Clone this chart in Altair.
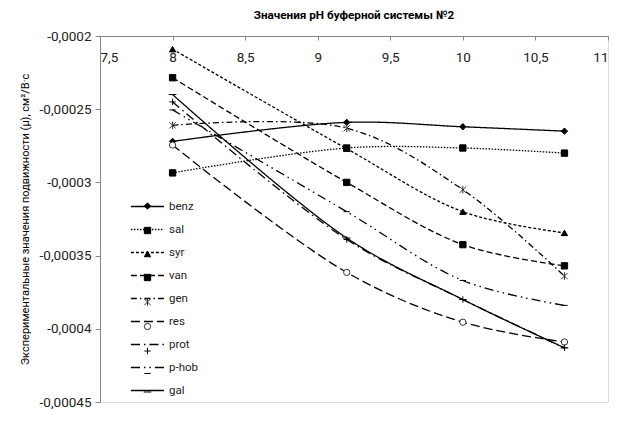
import altair as alt
import pandas as pd

# ---- data ----
ph = [8, 9.2, 10, 10.7]
series_names = ["benz", "sal", "syr", "van", "gen", "res", "prot", "p-hob", "gal"]
benz = [-0.000272, -0.000259, -0.000262, -0.000265]
sal = [-0.0002935, -0.0002765, -0.0002765, -0.00028]
syr = [-0.000209, -0.000277, -0.00032, -0.0003345]
van = [-0.0002285, -0.0003, -0.0003425, -0.000357]
gen = [-0.000261, -0.000263, -0.000305, -0.000364]
res = [-0.0002745, -0.0003615, -0.0003955, -0.000409]
prot = [-0.000245, -0.000339, -0.00038, -0.000413]
phob = [-0.0002505, -0.00032, -0.000367, -0.000384]
gal = [-0.00024, -0.000338, -0.00038, -0.000413]
x_ticks = [7.5, 8, 8.5, 9, 9.5, 10, 10.5, 11]
y_ticks = [-0.00045, -0.0004, -0.00035, -0.0003, -0.00025, -0.0002]

values = [benz, sal, syr, van, gen, res, prot, phob, gal]
marker_keys = [n + " " for n in series_names]  # separate key so the marker legend stays separate
rows = []
for name, key, vals in zip(series_names, marker_keys, values):
    for x, v in zip(ph, vals):
        rows.append({"ph": x, "mu": v, "series": name, "series_m": key})
df = pd.DataFrame(rows)

# ---- styles ----
dashes = [[1, 0], [1.5, 1.5], [3, 2], [6, 3], [6, 3, 1.5, 3], [9, 4],
          [9, 4, 1.5, 4], [9, 4, 1.5, 4, 1.5, 4], [1, 0]]
shapes = ["diamond", "square", "triangle-up", "square",
          "M-1,-1L1,1M-1,1L1,-1M0,-1.2L0,1.2", "circle",
          "M-1,0L1,0M0,-1L0,1", "M-1,0L1,0", "M-1.2,0L1.2,0"]
fills = ["black", "black", "black", "black", "black", "white",
         "black", "black", "black"]
strokes = ["black", "black", "black", "black", "#333333", "#333333",
           "black", "black", "black"]

W, H = 508, 366
FONT = "Roboto"
label_expr = "replace('' + datum.value, '.', ',')"

x_enc = alt.X("ph:Q", scale=alt.Scale(domain=[7.5, 11], nice=False, zero=False),
              axis=alt.Axis(orient="bottom", offset=-H, values=x_ticks, labelExpr=label_expr,
                            title=None, grid=False, tickSize=4, labelPadding=10,
                            domainColor="#868686", tickColor="#868686",
                            labelColor="#222222", labelFontSize=13.5, labelFont=FONT))
y_enc = alt.Y("mu:Q", scale=alt.Scale(domain=[-0.00045, -0.0002], nice=False, zero=False),
              axis=alt.Axis(values=y_ticks, labelExpr=label_expr, grid=False, tickSize=5,
                            labelPadding=4, domainColor="#868686", tickColor="#868686",
                            labelColor="#222222", labelFontSize=13.5, labelFont=FONT,
                            title="Экспериментальные значения подвижности (µ), см²/В·с",
                            titleFontSize=11, titleFontWeight="normal", titleFont=FONT,
                            titleColor="black", titlePadding=9))

lines = alt.Chart(df).mark_line(interpolate="catmull-rom", color="black", strokeWidth=1.3).encode(
    x=x_enc, y=y_enc,
    strokeDash=alt.StrokeDash("series:N",
                              scale=alt.Scale(domain=series_names, range=dashes),
                              legend=alt.Legend(orient="none", legendX=30, legendY=153,
                                                title=None, symbolType="stroke", symbolSize=1100,
                                                symbolStrokeWidth=1.3, symbolStrokeColor="black",
                                                labelFontSize=11.5, labelFont=FONT,
                                                labelColor="#222222", labelOffset=4,
                                                rowPadding=-1, padding=0, symbolOffset=0)),
)

points = alt.Chart(df).mark_point(size=40, strokeWidth=1, opacity=1).encode(
    x=x_enc, y=y_enc,
    shape=alt.Shape("series_m:N", scale=alt.Scale(domain=marker_keys, range=shapes),
                    legend=alt.Legend(orient="none", legendX=43.5, legendY=166, title=None,
                                      symbolSize=40, symbolStrokeWidth=1,
                                      labelExpr="''", labelFontSize=1,
                                      rowPadding=12.5, padding=0, symbolOffset=0)),
    fill=alt.Fill("series_m:N", scale=alt.Scale(domain=marker_keys, range=fills)),
    stroke=alt.Stroke("series_m:N", scale=alt.Scale(domain=marker_keys, range=strokes)),
)

chart = alt.layer(lines, points).properties(
    width=W, height=H,
    title=alt.TitleParams("Значения pH буферной системы №2", fontSize=11.7, fontWeight="bold",
                          font=FONT, color="black", offset=7, anchor="middle"),
    autosize=alt.AutoSizeParams(type="none"),
    padding={"left": 92, "top": 28, "right": 14, "bottom": 25},
).configure_view(stroke=None).configure(background="white")

chart.save("out.html", embed_options={"renderer": "svg", "actions": False})
